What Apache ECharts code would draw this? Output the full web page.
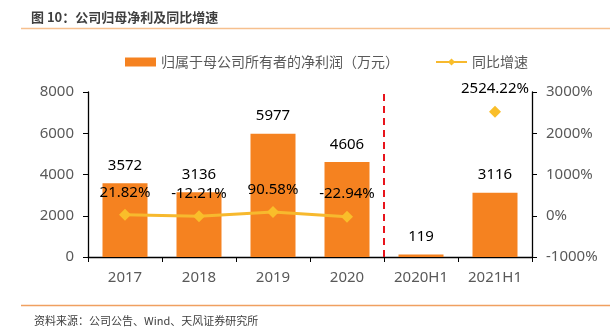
<!DOCTYPE html>
<html>
<head>
<meta charset="utf-8">
<script src="https://cdn.jsdelivr.net/npm/echarts@6/dist/echarts.min.js"></script>
<style>
html,body{margin:0;padding:0;background:#fff;}
#main{width:610px;height:334px;}
</style>
</head>
<body>
<div id="main"></div>
<script>
const categories = ['2017', '2018', '2019', '2020', '2020H1', '2021H1'];
const netProfit = [3572, 3136, 5977, 4606, 119, 3116];
const growth = [21.82, -12.21, 90.58, -22.94, null, 2524.22];
const leftTicks = { min: 0, max: 8000, interval: 2000 };
const rightTicks = { min: -1000, max: 3000, interval: 1000 };
const dividerAt = [4];
const titleText = '图 10：公司归母净利及同比增速';
const sourceText = '资料来源：公司公告、Wind、天风证券研究所';
const barName = '归属于母公司所有者的净利润（万元）';
const lineName = '同比增速';

const chart = echarts.init(document.getElementById('main'), null, { renderer: 'canvas' });
const cjk = '"Noto Sans CJK SC", "Noto Sans", sans-serif';
const num = '"Noto Sans", "Noto Sans CJK SC", sans-serif';
const axisColor = '#595959';

chart.setOption({
  animation: false,
  backgroundColor: '#fff',
  textStyle: { fontFamily: cjk },
  title: [
    { text: titleText, left: 26, top: 6, textStyle: { fontSize: 13, fontWeight: 'bold', color: '#3f3f3f', fontFamily: cjk } },
    { text: sourceText, left: 29, top: 310, textStyle: { fontSize: 11, fontWeight: 'normal', color: '#404040', fontFamily: cjk } }
  ],
  graphic: [
    { type: 'line', shape: { x1: 21, y1: 28.5, x2: 610, y2: 28.5 }, style: { stroke: '#F6C08E', lineWidth: 1.5 } },
    { type: 'line', shape: { x1: 21, y1: 305.5, x2: 610, y2: 305.5 }, style: { stroke: '#F0A060', lineWidth: 1.5 } }
  ],
  legend: {
    left: 120, top: 50,
    itemGap: 36,
    itemWidth: 31, itemHeight: 9,
    textStyle: { fontSize: 14, color: axisColor, fontFamily: cjk },
    data: [
      { name: barName, icon: 'rect' },
      { name: lineName }
    ]
  },
  grid: { left: 88, right: 78, top: 92, bottom: 77, containLabel: false },
  xAxis: [
    {
      type: 'category', data: categories, boundaryGap: true,
      axisLine: { lineStyle: { color: '#000', width: 1.3 } },
      axisTick: { show: true, length: 5, lineStyle: { color: '#000' } },
      axisLabel: { color: axisColor, fontSize: 15, margin: 13, fontFamily: num }
    },
    { type: 'value', min: 0, max: 6, show: false }
  ],
  yAxis: [
    {
      type: 'value', min: leftTicks.min, max: leftTicks.max, interval: leftTicks.interval,
      axisLine: { show: true, lineStyle: { color: '#000', width: 1.3 } },
      axisTick: { show: true, length: 5, lineStyle: { color: '#000' } },
      axisLabel: { color: axisColor, fontSize: 15, margin: 14, fontFamily: num, formatter: v => String(v) },
      splitLine: { show: false }
    },
    {
      type: 'value', min: rightTicks.min, max: rightTicks.max, interval: rightTicks.interval,
      axisLine: { show: true, lineStyle: { color: '#000', width: 1.3 } },
      axisTick: { show: true, length: 5, lineStyle: { color: '#000' } },
      axisLabel: { color: axisColor, fontSize: 15, margin: 14, fontFamily: num, formatter: v => String(v) + '%' },
      splitLine: { show: false }
    }
  ],
  series: [
    {
      name: barName, type: 'bar', data: netProfit, barWidth: 45,
      itemStyle: { color: '#F58220' },
      label: { show: true, position: 'top', distance: 10, color: '#000', fontSize: 15, fontFamily: num }
    },
    {
      name: lineName, type: 'line', yAxisIndex: 1, data: growth,
      connectNulls: false,
      symbol: 'diamond', symbolSize: 12,
      lineStyle: { color: '#F7B92E', width: 3 },
      itemStyle: { color: '#F9BE2A' },
      label: { show: true, position: 'top', distance: 9, color: '#000', fontSize: 15, fontFamily: num,
        formatter: p => p.value == null ? '' : p.value.toFixed(2) + '%' },
      z: 3
    },
    {
      name: 'divider', type: 'line', xAxisIndex: 1, yAxisIndex: 0, data: [],
      markLine: {
        silent: true, symbol: ['none', 'none'], label: { show: false },
        lineStyle: { color: '#E8141C', type: [7, 5], width: 2 },
        data: dividerAt.map(v => ({ xAxis: v }))
      }
    }
  ]
});
</script>
</body>
</html>
